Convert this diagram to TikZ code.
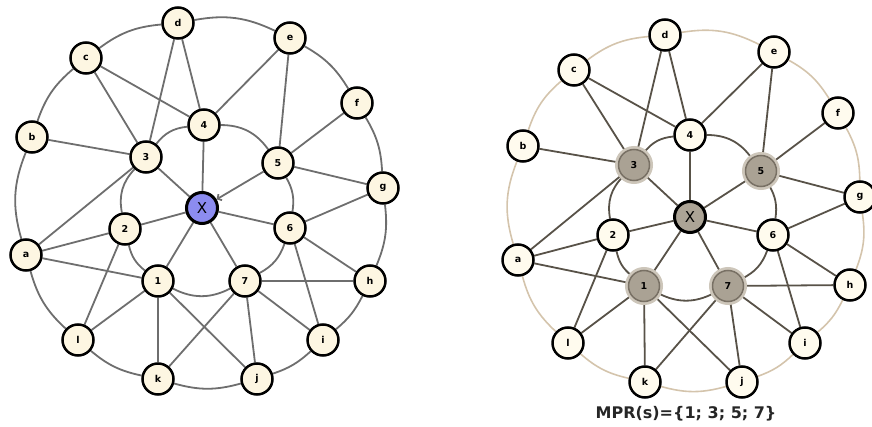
\documentclass[tikz,border=0pt]{standalone}
\usepackage{fontspec}
\setmainfont{DejaVu Sans}
\usetikzlibrary{backgrounds,arrows.meta}
\definecolor{creamL}{RGB}{253,246,226}
\definecolor{creamR}{RGB}{255,251,238}
\definecolor{xblue}{RGB}{140,140,240}
\definecolor{edgeL}{RGB}{110,110,110}
\definecolor{edgeR}{RGB}{88,82,72}
\definecolor{ringR}{RGB}{212,196,172}
\definecolor{mprfill}{RGB}{170,162,148}
\definecolor{mprline}{RGB}{120,112,100}
\definecolor{mprhalo}{RGB}{205,198,186}
\definecolor{xgrey}{RGB}{172,164,150}
\newcommand\graphedges[1]{%
  \foreach \u/\v in {c/3,c/4,d/3,d/4,e/4,e/5,f/5,b/3,5/g,4/X,3/X,X/6,X/2,X/1,X/7,3/a,a/2,a/1,2/l,1/l,1/k,1/j,7/k,7/j,7/i,7/h,6/g,6/h,6/i}
    \draw[gedge] (#1\u) -- (#1\v);
  \foreach \u/\v/\b in {d/c/15.7,c/b/15.3,b/a/19,a/l/15.8,l/k/14.1,k/j/15.6,j/i/11.9,i/h/11.7,h/g/14.7,g/f/13.9,f/e/14.5,e/d/17.9}
    \draw[gring] (#1\u) to[bend right=\b] (#1\v);
  \foreach \u/\v/\b in {4/3/23,3/2/27,2/1/19,1/7/27,7/6/21,6/5/19,5/4/27}
    \draw[gedge] (#1\u) to[bend right=\b] (#1\v);
}
\tikzset{
  gnode/.style={circle,minimum size=31pt,inner sep=0pt,line width=2.5pt,draw=black,
    font=\fontsize{9.5}{9.5}\selectfont\bfseries},
  lnode/.style={gnode,fill=creamL},
  rnode/.style={gnode,fill=creamR},
  lx/.style={gnode,fill=xblue,line width=3pt,font=\fontsize{15}{15}\selectfont},
  rx/.style={gnode,fill=xgrey,line width=3pt,font=\fontsize{15}{15}\selectfont},
  mpr/.style={circle,minimum size=31pt,inner sep=0pt,fill=mprfill,draw=mprline,line width=1.5pt,
    font=\fontsize{9.5}{9.5}\selectfont\bfseries,preaction={draw=mprhalo,line width=7pt}},
  ledge/.style={draw=edgeL,line width=1.8pt},
  redge/.style={draw=edgeR,line width=1.8pt},
  rring/.style={draw=ringR,line width=1.6pt},
}
\begin{document}
\begin{tikzpicture}[x=1pt,y=1pt]
\useasboundingbox (0,0) rectangle (872,-427);
% ---------- left graph ----------
\node[lnode] (Ld) at (178,-23) {d};
\node[lnode] (Lc) at (86,-58) {c};
\node[lnode] (Le) at (290,-38) {e};
\node[lnode] (Lf) at (357,-103) {f};
\node[lnode] (Lb) at (32,-137) {b};
\node[lnode] (L4) at (204,-125) {4};
\node[lnode] (L3) at (146,-157) {3};
\node[lnode] (L5) at (278,-163) {5};
\node[lnode] (Lg) at (383,-188) {g};
\node[lx]    (LX) at (202,-208) {X};
\node[lnode] (L2) at (125,-229) {2};
\node[lnode] (L6) at (290,-228) {6};
\node[lnode] (La) at (26,-255) {a};
\node[lnode] (L1) at (158,-281) {1};
\node[lnode] (L7) at (245,-281) {7};
\node[lnode] (Lh) at (370,-281) {h};
\node[lnode] (Ll) at (78,-340) {l};
\node[lnode] (Li) at (323,-340) {i};
\node[lnode] (Lk) at (158,-379) {k};
\node[lnode] (Lj) at (257,-379) {j};
\begin{scope}[on background layer,gedge/.style=ledge,gring/.style=ledge]
  \graphedges{L}
  \draw[gedge,-{Straight Barb[length=3pt,width=7pt]}] (L5) -- (LX);
\end{scope}
% ---------- right graph ----------
\node[rnode] (Rd) at (665,-35) {d};
\node[rnode] (Rc) at (574,-70) {c};
\node[rnode] (Re) at (774,-52) {e};
\node[rnode] (Rf) at (838,-113) {f};
\node[rnode] (Rb) at (523,-146) {b};
\node[rnode] (R4) at (690,-135) {4};
\node[mpr]   (R3) at (634,-165) {3};
\node[mpr]   (R5) at (761,-171) {5};
\node[rnode] (Rg) at (860,-197) {g};
\node[rx]    (RX) at (690,-217) {X};
\node[rnode] (R2) at (613,-235) {2};
\node[rnode] (R6) at (773,-235) {6};
\node[rnode] (Ra) at (518,-260) {a};
\node[mpr]   (R1) at (644,-286) {1};
\node[mpr]   (R7) at (728,-286) {7};
\node[rnode] (Rh) at (850,-285) {h};
\node[rnode] (Rl) at (568,-343) {l};
\node[rnode] (Ri) at (805,-343) {i};
\node[rnode] (Rk) at (645,-382) {k};
\node[rnode] (Rj) at (742,-382) {j};
\begin{scope}[on background layer,gedge/.style=redge,gring/.style=rring]
  \graphedges{R}
  \draw[gedge] (R5) -- (RX);
\end{scope}
\node[font=\fontsize{16}{16}\selectfont\bfseries,text=black!85] (cap) at (686,-414) {MPR(s)=\{1; 3; 5; 7\}};
\end{tikzpicture}
\end{document}
